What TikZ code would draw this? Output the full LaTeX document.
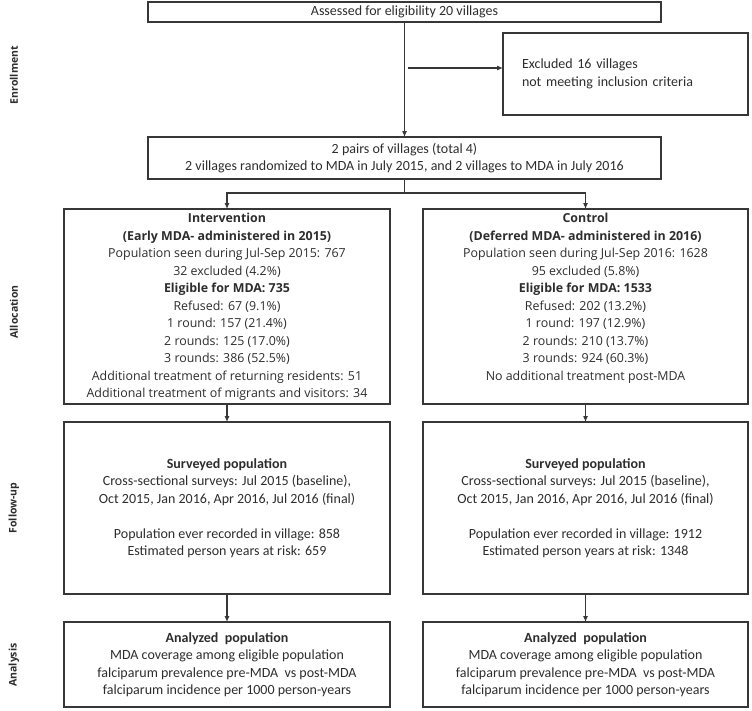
\documentclass[tikz,border=0pt]{standalone}
\usepackage{fontspec}
\setmainfont{Carlito}
\newfontfamily\segoe{Open Sans}
\usepackage{tikz}
\usetikzlibrary{positioning}
\usetikzlibrary{arrows.meta, calc}
\definecolor{linegray}{RGB}{55,55,55}
\definecolor{textgray}{RGB}{45,45,45}

\begin{document}
\begin{tikzpicture}[x=1pt, y=-1pt]
	\tikzstyle{box} = [draw=linegray, line width=1.2pt, rectangle, outer sep=0pt, inner sep=0pt, align=center, text=textgray, font=\fontsize{14}{17.5}\selectfont]
	\tikzstyle{boxtext} = [inner sep=0pt, align=center, text=textgray, font=\segoe\fontsize{12.4}{17.5}\selectfont]
	\tikzstyle{edge} = [draw=linegray, line width=1.1pt]
	\tikzstyle{arrow} = [edge, -{Latex[length=6pt, width=5pt]}]
	\tikzstyle{phase} = [rotate=90, text=textgray, font=\segoe\fontsize{10.5}{13}\selectfont\bfseries]

	\useasboundingbox (0,0) rectangle (752,710);

	% stage labels on the left
	\node (e) [phase] at (14,75) {Enrollment};
	\node (a) [phase] at (14,312) {Allocation};
	\node (f) [phase] at (14,508) {Follow-up};
	\node (n) [phase] at (14,665) {Analysis};

	% enrollment
	\node (1) [box, minimum width=513pt, minimum height=20pt] at (404.5,12) {Assessed for eligibility 20 villages};
	\node (2) [box, align=left, text width=207pt, inner xsep=19pt, minimum height=82pt] at (625.5,74) {Excluded 16 villages\\not meeting inclusion criteria};
	\node (3) [box, minimum width=513pt, minimum height=42pt, below=115pt of 1] {2 pairs of villages (total 4)\\2 villages randomized to MDA in July 2015, and 2 villages to MDA in July 2016};

	% allocation
	\node (4) [box, minimum width=326pt, minimum height=195pt] at (227,306.5) {};
	\node (5) [box, minimum width=325pt, minimum height=195pt, right=33pt of 4] {};
	\node (4a) [boxtext, below=4pt of 4.north] {\textbf{Intervention}\\\textbf{(Early MDA- administered in 2015)}\\Population seen during Jul-Sep 2015: 767\\32 excluded (4.2\%)\\\textbf{Eligible for MDA: 735}\\Refused: 67 (9.1\%)\\1 round: 157 (21.4\%)\\2 rounds: 125 (17.0\%)\\3 rounds: 386 (52.5\%)\\Additional treatment of returning residents: 51\\Additional treatment of migrants and visitors: 34};
	\node (5a) [boxtext, below=4pt of 5.north] {\textbf{Control}\\\textbf{(Deferred MDA- administered in 2016)}\\Population seen during Jul-Sep 2016: 1628\\95 excluded (5.8\%)\\\textbf{Eligible for MDA: 1533}\\Refused: 202 (13.2\%)\\1 round: 197 (12.9\%)\\2 rounds: 210 (13.7\%)\\3 rounds: 924 (60.3\%)\\No additional treatment post-MDA};

	% follow-up
	\node (6) [box, minimum width=326pt, minimum height=172pt, below=18pt of 4] {\textbf{Surveyed population}\\Cross-sectional surveys: Jul 2015 (baseline),\\Oct 2015, Jan 2016, Apr 2016, Jul 2016 (final)\\[17.5pt]Population ever recorded in village: 858\\Estimated person years at risk: 659};
	\node (7) [box, minimum width=325pt, minimum height=172pt, below=18pt of 5] {\textbf{Surveyed population}\\Cross-sectional surveys: Jul 2015 (baseline),\\Oct 2015, Jan 2016, Apr 2016, Jul 2016 (final)\\[17.5pt]Population ever recorded in village: 1912\\Estimated person years at risk: 1348};

	% analysis
	\node (8) [box, minimum width=326pt, minimum height=85pt, below=28pt of 6] {\textbf{Analyzed\ \ population}\\MDA coverage among eligible population\\falciparum prevalence pre-MDA\ \ vs post-MDA\\falciparum incidence per 1000 person-years};
	\node (9) [box, minimum width=325pt, minimum height=85pt, below=28pt of 7] {\textbf{Analyzed\ \ population}\\MDA coverage among eligible population\\falciparum prevalence pre-MDA\ \ vs post-MDA\\falciparum incidence per 1000 person-years};

	\coordinate (c1) at (408,68);
	\coordinate (c2) at (404.5,193);

	\draw (1) edge [arrow] (3);
	\draw [arrow] (c1) -- (c1 -| 2.west);
	\draw [edge] (3) -- (c2);
	\draw [arrow] (c2) -| (4.north);
	\draw [arrow] (c2) -| (5.north);
	\draw (4) edge [arrow] (6);
	\draw (5) edge [arrow] (7);
	\draw (6) edge [arrow] (8);
	\draw (7) edge [arrow] (9);
\end{tikzpicture}
\end{document}
